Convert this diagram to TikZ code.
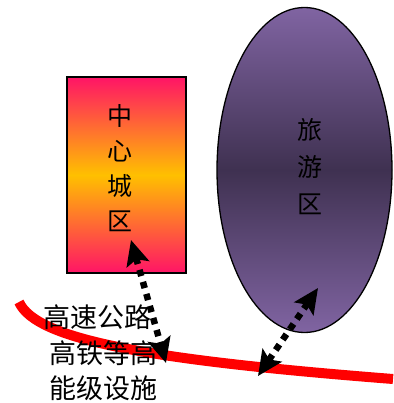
\documentclass[tikz,border=0pt]{standalone}
\usepackage{fontspec}
\newfontfamily\cjk{Noto Sans CJK SC}
\usetikzlibrary{arrows.meta,shapes.geometric}
\definecolor{rosepink}{HTML}{FF1466}
\definecolor{goldmid}{HTML}{FFC000}
\definecolor{purplelt}{HTML}{8064A2}
\definecolor{purpledk}{HTML}{3F3151}
\tikzset{
  cjktext/.style={font=\cjk\fontsize{25}{35}\selectfont, align=center, inner sep=0pt},
  captext/.style={font=\cjk\fontsize{27}{35}\selectfont, inner sep=0pt},
  linkarrow/.style={line width=6.5pt, dash pattern=on 6.5pt off 6pt, {Stealth[length=25pt,width=23pt,inset=5pt]}-{Stealth[length=25pt,width=23pt,inset=5pt]}},
  road/.style={line width=10pt, draw=red},
}
\begin{document}
\begin{tikzpicture}[x=1pt,y=-1pt]
\useasboundingbox (0,0) rectangle (393,403);
% road
\coordinate (roadA) at (19,302);
\coordinate (roadB) at (393,379);
\draw[road] (roadA) .. controls (36,340) and (150,360) .. (roadB);
% central city
\node[draw=black, line width=2pt, minimum width=119pt, minimum height=196pt, inner sep=0pt,
      top color=rosepink, bottom color=rosepink, middle color=goldmid] (city) at (126,175) {};
\node[cjktext] (citytext) at (120,168) {中\\心\\城\\区};
% tourism area
\node[draw=black, line width=1.3pt, ellipse, minimum width=175pt, minimum height=325pt, inner sep=0pt,
      top color=purplelt, bottom color=purplelt, middle color=purpledk] (tour) at (304.5,170) {};
\node[cjktext, font=\cjk\fontsize{25}{37}\selectfont] (tourtext) at (310,167) {旅\\游\\区};
% arrows
\coordinate (cityEnd) at (131,240);
\coordinate (roadEnd1) at (166,363);
\coordinate (tourEnd) at (318,288);
\coordinate (roadEnd2) at (258,376);
\draw[linkarrow] (cityEnd) -- (roadEnd1);
\draw[linkarrow] (tourEnd) -- (roadEnd2);
% caption
\node[captext] (cap1) at (97,317) {高速公路};
\node[captext] (cap2) at (103,353) {高铁等高};
\node[captext] (cap3) at (103,388) {能级设施};
\end{tikzpicture}
\end{document}
